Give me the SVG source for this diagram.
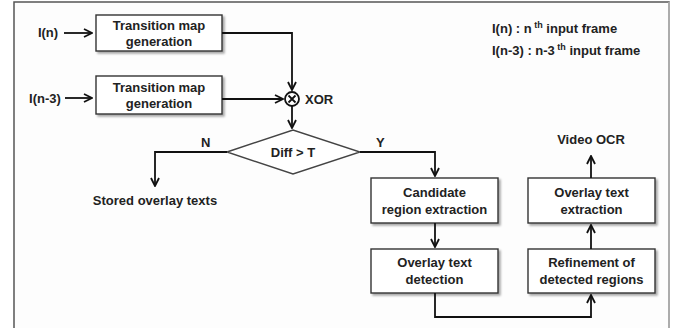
<svg xmlns="http://www.w3.org/2000/svg" width="682" height="328" viewBox="0 0 682 328">
<defs>
<marker id="ah" viewBox="0 0 10 10" refX="9" refY="5" markerWidth="10" markerHeight="10" markerUnits="userSpaceOnUse" orient="auto">
<path d="M1,1 L9,5 L1,9" fill="none" stroke="#111" stroke-width="1.8"/>
</marker>
<filter id="sh" x="-10%" y="-10%" width="130%" height="140%">
<feDropShadow dx="2" dy="2" stdDeviation="1" flood-color="#000" flood-opacity="0.35"/>
</filter>
</defs>
<style>
.bx{fill:#fff;stroke:#333;stroke-width:1.4;filter:url(#sh)}
.t{font-family:"Liberation Sans",Arial,sans-serif;font-weight:bold;font-size:13px;fill:#222;text-anchor:middle}
.l{font-family:"Liberation Sans",Arial,sans-serif;font-weight:bold;font-size:13px;fill:#222}
.c{fill:none;stroke:#111;stroke-width:1.8}
</style>
<rect x="0" y="0" width="682" height="328" fill="#fff"/>
<path d="M14,328 L14,2 L669,2 L669,328" fill="#fdfdfd" stroke="#555" stroke-width="1.5"/>
<line x1="669" y1="2" x2="669" y2="328" stroke="#bbb" stroke-width="1.5"/>

<g id="legend">
<text class="l" x="492" y="33">I(n) : n<tspan font-size="9" dy="-5"> th</tspan><tspan dy="5">  input frame</tspan></text>
<text class="l" x="492" y="55">I(n-3) : n-3<tspan font-size="9" dy="-5"> th</tspan><tspan dy="5">  input frame</tspan></text>
</g>

<g id="in"><text class="t" x="48" y="37">I(n)</text></g>
<g id="in3"><text class="t" x="45" y="103">I(n-3)</text></g>

<g id="tm1">
<rect class="bx" x="96" y="15" width="126" height="36"/>
<text class="t" x="159" y="30">Transition map</text>
<text class="t" x="159" y="46">generation</text>
</g>
<g id="tm2">
<rect class="bx" x="96" y="76" width="126" height="38"/>
<text class="t" x="159" y="92">Transition map</text>
<text class="t" x="159" y="108">generation</text>
</g>

<g id="xor">
<circle cx="292" cy="99" r="7" fill="#fff" stroke="#111" stroke-width="1.8"/>
<path d="M288.5,95.5 L295.5,102.5 M295.5,95.5 L288.5,102.5" stroke="#111" stroke-width="1.8"/>
<text class="l" x="305" y="104" font-size="14">XOR</text>
</g>

<g id="diamond">
<polygon points="227,152 293,130 360,152 293,174" fill="#fff" stroke="#444" stroke-width="1.4"/>
<text class="t" x="293" y="157">Diff &gt; T</text>
</g>

<g id="stored"><text class="t" x="155" y="205">Stored overlay texts</text></g>

<g id="cand">
<rect class="bx" x="371" y="178" width="127" height="45"/>
<text class="t" x="434.5" y="197">Candidate</text>
<text class="t" x="434.5" y="214">region extraction</text>
</g>
<g id="det">
<rect class="bx" x="371" y="249" width="127" height="44"/>
<text class="t" x="434.5" y="267">Overlay text</text>
<text class="t" x="434.5" y="284">detection</text>
</g>
<g id="ref">
<rect class="bx" x="528" y="249" width="127" height="44"/>
<text class="t" x="591.5" y="267">Refinement of</text>
<text class="t" x="591.5" y="284">detected regions</text>
</g>
<g id="ext">
<rect class="bx" x="528" y="178" width="127" height="45"/>
<text class="t" x="591.5" y="197">Overlay text</text>
<text class="t" x="591.5" y="214">extraction</text>
</g>
<g id="ocr"><text class="t" x="591" y="144">Video OCR</text></g>

<g id="connectors">
<line class="c" x1="64" y1="33" x2="92" y2="33" marker-end="url(#ah)"/>
<line class="c" x1="65" y1="98" x2="92" y2="98" marker-end="url(#ah)"/>
<polyline class="c" points="222,33 292,33 292,90" marker-end="url(#ah)"/>
<line class="c" x1="222" y1="99" x2="283" y2="99" marker-end="url(#ah)"/>
<line class="c" x1="292" y1="106" x2="292" y2="128" marker-end="url(#ah)"/>
<polyline class="c" points="227,152 155,152 155,186" marker-end="url(#ah)"/>
<text class="l" x="201" y="147">N</text>
<polyline class="c" points="360,152 435,152 435,176" marker-end="url(#ah)"/>
<text class="l" x="376" y="147">Y</text>
<line class="c" x1="435" y1="223" x2="435" y2="247" marker-end="url(#ah)"/>
<polyline class="c" points="435,293 435,317 591,317 591,295" marker-end="url(#ah)"/>
<line class="c" x1="591" y1="249" x2="591" y2="225" marker-end="url(#ah)"/>
<line class="c" x1="591" y1="178" x2="591" y2="156" marker-end="url(#ah)"/>
</g>
</svg>
